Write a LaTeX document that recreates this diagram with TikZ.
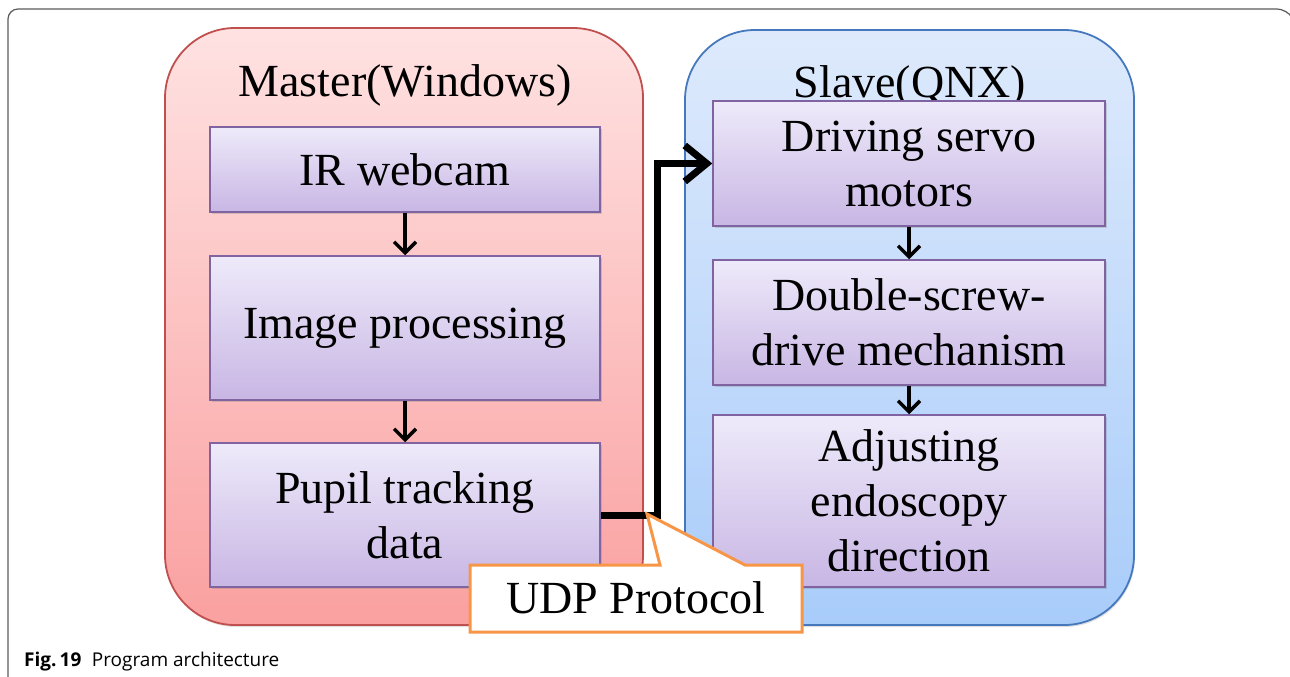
\documentclass[tikz,border=0pt]{standalone}
\usepackage{fontspec}
\setmainfont{Liberation Serif}
\newfontfamily\capfont{Open Sans}
\usetikzlibrary{arrows.meta,shadows}
\definecolor{mred}{RGB}{192,80,77}
\definecolor{mtop}{RGB}{255,226,226}
\definecolor{mbot}{RGB}{250,160,160}
\definecolor{sblue}{RGB}{70,120,190}
\definecolor{stop}{RGB}{222,234,252}
\definecolor{sbot}{RGB}{168,204,250}
\definecolor{bpur}{RGB}{128,100,162}
\definecolor{btop}{RGB}{238,234,250}
\definecolor{bbot}{RGB}{200,182,228}
\definecolor{uorange}{RGB}{247,150,70}
\definecolor{framegray}{RGB}{90,90,90}
\tikzset{
  container/.style={draw, line width=1.8pt, rounded corners=70pt, inner sep=0pt,
    drop shadow={opacity=0.25, shadow xshift=1pt, shadow yshift=-2pt}},
  stepbox/.style={draw=bpur, line width=1.5pt, top color=btop, bottom color=bbot,
    inner sep=0pt, align=center, font=\fontsize{46}{55}\selectfont,
    drop shadow={opacity=0.3, shadow xshift=1.5pt, shadow yshift=-2pt}},
  title/.style={font=\fontsize{46}{55}\selectfont, anchor=base, inner sep=0pt},
  flowarrow/.style={black, line width=3.5pt, -{Straight Barb[length=11pt,width=22pt,line width=3.5pt]}},
  linkarrow/.style={black, line width=7pt, -{Straight Barb[length=22pt,width=36pt,line width=7pt]}}
}
\begin{document}
\begin{tikzpicture}[x=1pt,y=-1pt]
\useasboundingbox (0,0) rectangle (1290,677);
% card frame
\draw[framegray, line width=1.2pt, rounded corners=10pt] (8,680) -- (8,9) -- (1287,9) -- (1290,14);
% containers
\node[container, draw=mred, top color=mtop, bottom color=mbot,
  minimum width=478pt, minimum height=597pt] (master) at (404,326.5) {};
\node[container, draw=sblue, top color=stop, bottom color=sbot,
  minimum width=449pt, minimum height=595pt] (slave) at (909.5,327.5) {};
% titles
\node[title] (mtitle) at (405,96) {Master(Windows)};
\node[title] (stitle) at (910,97) {Slave(QNX)};
% master steps
\node[stepbox, minimum width=390pt, minimum height=85pt] (ir) at (405,169.5) {IR webcam};
\node[stepbox, minimum width=390pt, minimum height=144pt] (img) at (405,328) {Image processing};
\node[stepbox, minimum width=390pt, minimum height=144pt] (pupil) at (405,515) {Pupil tracking\\data};
% slave steps
\node[stepbox, minimum width=392pt, minimum height=125pt] (drive) at (909,163.5) {Driving servo\\motors};
\node[stepbox, minimum width=392pt, minimum height=125pt] (screw) at (909,322.5) {Double-screw-\\drive mechanism};
\node[stepbox, minimum width=392pt, minimum height=172pt] (adj) at (909,501) {Adjusting\\endoscopy\\direction};
% flow arrows
\draw[flowarrow] (ir) -- (img);
\draw[flowarrow] (img) -- (pupil);
\draw[flowarrow] (drive) -- (screw);
\draw[flowarrow] (screw) -- (adj);
% link connector
\coordinate (bend) at (657,515);
\draw[linkarrow] (pupil.east) -- (bend) |- (drive.west);
% callout
\coordinate (tip) at (647,514);
\draw[uorange, line width=3pt, fill=white, line join=miter]
  (470,565) -- (660,565) -- (tip) -- (745,565) -- (802,565) -- (802,632) -- (470,632) -- cycle;
\node[font=\fontsize{46}{55}\selectfont, anchor=base, inner sep=0pt] (udp) at (636,613) {UDP Protocol};
% caption
\node[font=\capfont\fontsize{19}{22}\selectfont, anchor=base west, inner sep=0pt] (cap) at (24,666)
  {\textbf{Fig.\,19}\hspace{0.55em}Program architecture};
\end{tikzpicture}
\end{document}
